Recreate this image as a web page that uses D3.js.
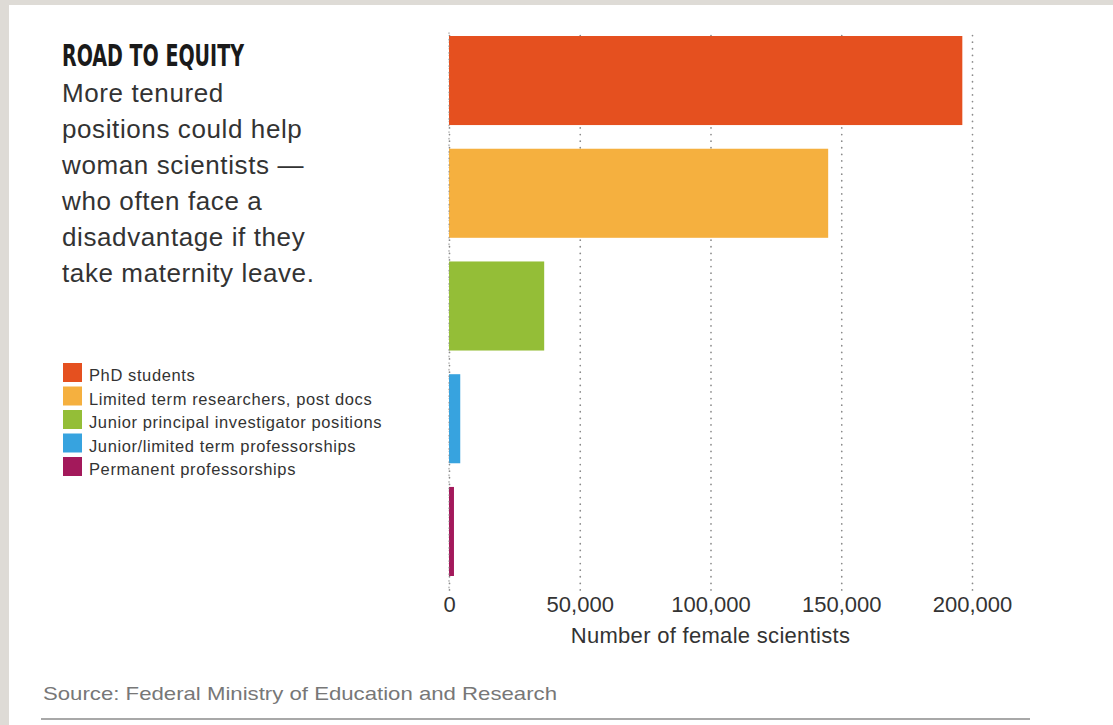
<!DOCTYPE html>
<html>
<head>
<meta charset="utf-8">
<script src="https://cdn.jsdelivr.net/npm/d3@7"></script>
<style>
  html, body { margin: 0; padding: 0; background: #dedbd6; }
  svg { display: block; }
</style>
</head>
<body>
<svg id="chart" width="1113" height="725"></svg>
<script>
// chart data
const categories = [
  'PhD students',
  'Limited term researchers, post docs',
  'Junior principal investigator positions',
  'Junior/limited term professorships',
  'Permanent professorships'
];
const values = [196300, 145000, 36400, 4300, 1900];
const colors = ['#e5501f', '#f5b03f', '#94be37', '#37a3df', '#a3195b'];
const tickValues = [0, 50000, 100000, 150000, 200000];
const subtitleLines = [
  'More tenured',
  'positions could help',
  'woman scientists \u2014',
  'who often face a',
  'disadvantage if they',
  'take maternity leave.'
];

const svg = d3.select('#chart');

// white panel
svg.append('rect')
  .attr('x', 9).attr('y', 5)
  .attr('width', 1104).attr('height', 720)
  .attr('fill', '#ffffff');

const x = d3.scaleLinear().domain([0, 200000]).range([449, 972]);
const y = d3.scaleBand().domain(categories).range([36, 576]).paddingInner(0.21);

const axisY = 590;
const gridTop = 33;

// axis + dotted gridlines
const axis = svg.append('g')
  .attr('transform', `translate(0,${axisY})`)
  .call(d3.axisBottom(x)
    .tickValues(tickValues)
    .tickSize(-(axisY - gridTop))
    .tickPadding(6)
    .tickFormat(d3.format(',')));

axis.select('.domain').remove();
axis.selectAll('.tick line')
  .attr('stroke', '#8a8a8a')
  .attr('stroke-width', 1.7)
  .attr('stroke-dasharray', '0.1,6.5')
  .attr('stroke-linecap', 'round');
axis.selectAll('.tick text')
  .attr('fill', '#333')
  .style('font-family', 'Liberation Sans, Arial, sans-serif')
  .style('font-size', '22px');

// bars
svg.append('g')
  .selectAll('rect')
  .data(categories)
  .join('rect')
  .attr('x', x(0))
  .attr('y', d => y(d))
  .attr('width', (d, i) => x(values[i]) - x(0))
  .attr('height', y.bandwidth())
  .attr('fill', (d, i) => colors[i]);

// zero line sits over the bars
svg.append('line')
  .attr('x1', x(0)).attr('x2', x(0))
  .attr('y1', gridTop).attr('y2', axisY)
  .attr('stroke', '#8a8a8a')
  .attr('stroke-width', 1.7)
  .attr('stroke-dasharray', '0.1,6.5')
  .attr('stroke-linecap', 'round')
  .attr('opacity', 0.6);

// axis title
svg.append('text')
  .attr('x', (x(0) + x(200000)) / 2)
  .attr('y', 643)
  .attr('text-anchor', 'middle')
  .attr('fill', '#333')
  .style('font-family', 'Liberation Sans, Arial, sans-serif')
  .style('font-size', '22px')
  .style('letter-spacing', '0.3px')
  .text('Number of female scientists');

// title block
svg.append('text')
  .attr('x', 62).attr('y', 66)
  .attr('fill', '#1a1a1a')
  .attr('textLength', 182)
  .attr('lengthAdjust', 'spacingAndGlyphs')
  .style('font-family', 'DejaVu Sans Condensed, DejaVu Sans, sans-serif')
  .style('font-weight', 'bold')
  .style('font-size', '31px')
  .text('ROAD TO EQUITY');

svg.append('g')
  .selectAll('text')
  .data(subtitleLines)
  .join('text')
  .attr('x', 62)
  .attr('y', (d, i) => 102 + i * 36)
  .attr('fill', '#333')
  .style('font-family', 'Liberation Sans, Arial, sans-serif')
  .style('font-size', '26px')
  .style('letter-spacing', '0.6px')
  .text(d => d);

// legend
const legend = svg.append('g')
  .selectAll('g')
  .data(categories)
  .join('g')
  .attr('transform', (d, i) => `translate(63,${363 + i * 23.5})`);

legend.append('rect')
  .attr('width', 19).attr('height', 19)
  .attr('fill', (d, i) => colors[i]);

legend.append('text')
  .attr('x', 26).attr('y', 18)
  .attr('fill', '#333')
  .style('font-family', 'Liberation Sans, Arial, sans-serif')
  .style('font-size', '16.5px')
  .style('letter-spacing', '0.6px')
  .text(d => d);

// source + rule
svg.append('text')
  .attr('x', 43).attr('y', 700)
  .attr('fill', '#777')
  .attr('textLength', 514)
  .attr('lengthAdjust', 'spacingAndGlyphs')
  .style('font-family', 'Liberation Sans, Arial, sans-serif')
  .style('font-size', '19px')
  .text('Source: Federal Ministry of Education and Research');

svg.append('line')
  .attr('x1', 41).attr('x2', 1030)
  .attr('y1', 719).attr('y2', 719)
  .attr('stroke', '#a8a8a8')
  .attr('stroke-width', 2);
</script>
</body>
</html>
